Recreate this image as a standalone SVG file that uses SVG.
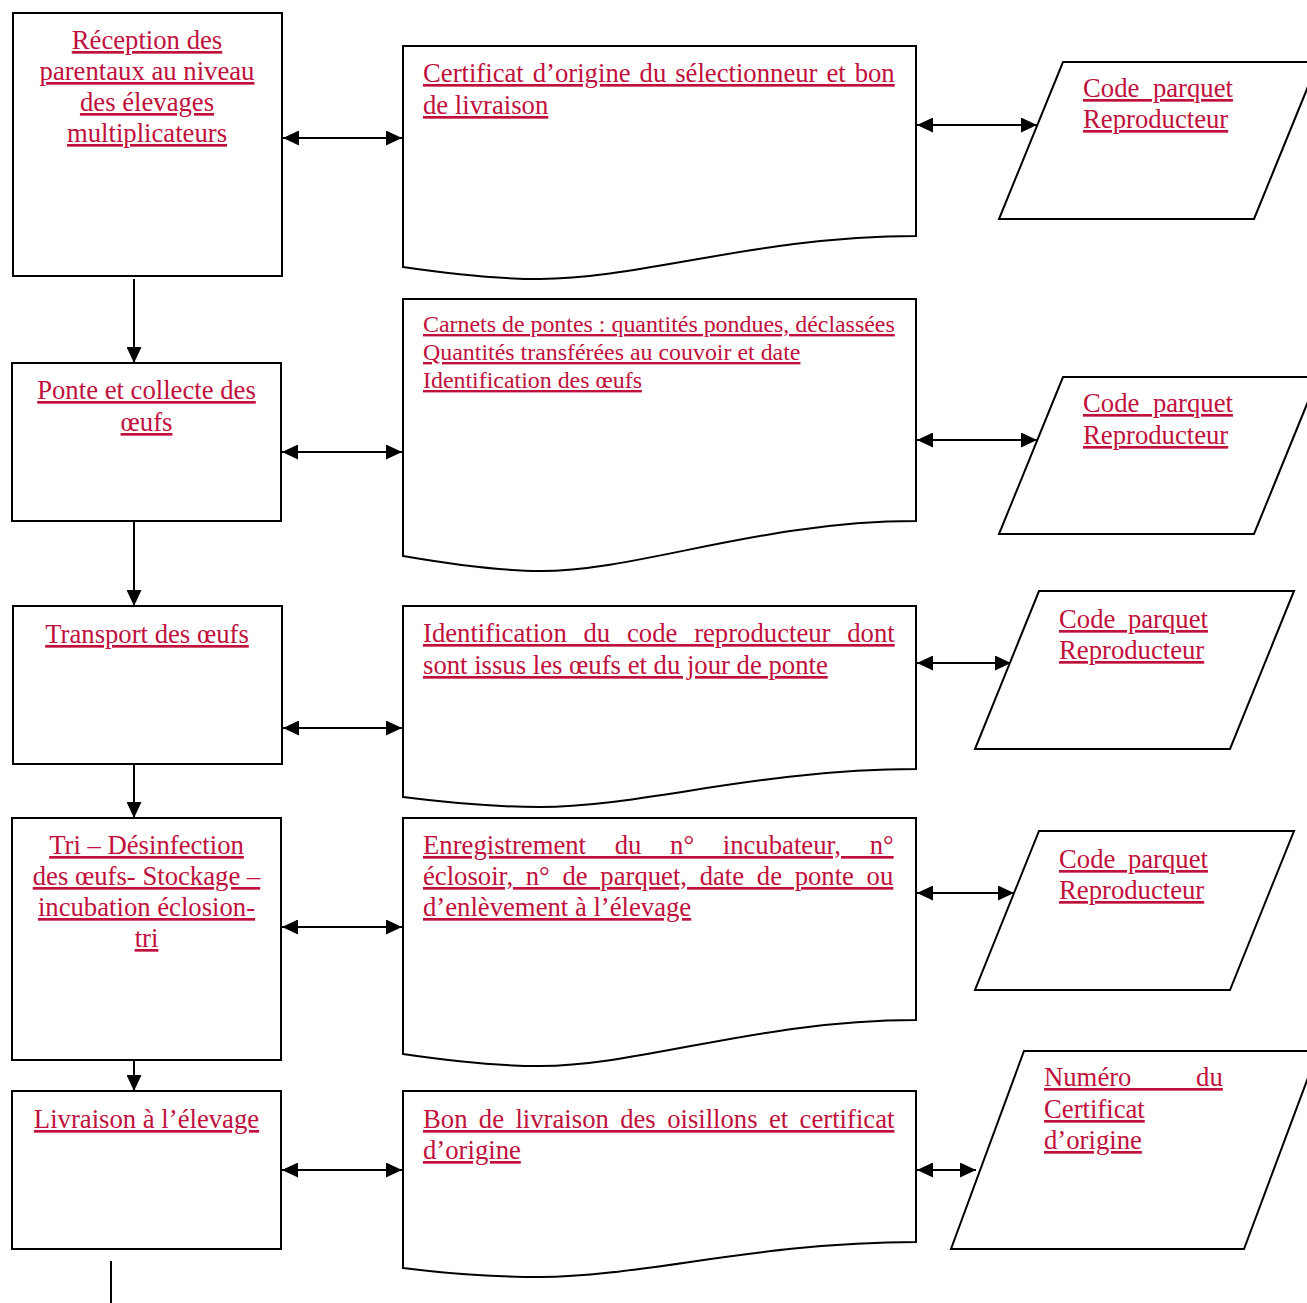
<svg xmlns="http://www.w3.org/2000/svg" width="1307" height="1303" viewBox="0 0 1307 1303">
<style>
.s{fill:#fff;stroke:#000;stroke-width:2}
.c{fill:none;stroke:#000;stroke-width:2}
text{font-family:"Liberation Serif","Times New Roman",serif;fill:#C0103C;text-decoration:underline}
.L{font-size:26.7px}
.S{font-size:23.9px}
.m{text-anchor:middle}
</style>
<defs>
<marker id="ah" markerUnits="userSpaceOnUse" markerWidth="16" markerHeight="15" refX="16" refY="7.5" orient="auto-start-reverse">
<path d="M0,0 L16,7.5 L0,15 Z" fill="#000"/>
</marker>
</defs>
<rect width="1307" height="1303" fill="#fff"/>

<g id="connectors">
<line class="c" x1="134" y1="279" x2="134" y2="363" marker-end="url(#ah)"/>
<line class="c" x1="134" y1="521" x2="134" y2="606" marker-end="url(#ah)"/>
<line class="c" x1="134" y1="764" x2="134" y2="818" marker-end="url(#ah)"/>
<line class="c" x1="134" y1="1060" x2="134" y2="1091" marker-end="url(#ah)"/>
<line class="c" x1="111" y1="1261" x2="111" y2="1303"/>
<line class="c" x1="283" y1="138" x2="402" y2="138" marker-start="url(#ah)" marker-end="url(#ah)"/>
<line class="c" x1="282" y1="452" x2="402" y2="452" marker-start="url(#ah)" marker-end="url(#ah)"/>
<line class="c" x1="283" y1="728" x2="402" y2="728" marker-start="url(#ah)" marker-end="url(#ah)"/>
<line class="c" x1="282" y1="927" x2="402" y2="927" marker-start="url(#ah)" marker-end="url(#ah)"/>
<line class="c" x1="282" y1="1170" x2="402" y2="1170" marker-start="url(#ah)" marker-end="url(#ah)"/>
<line class="c" x1="917" y1="125" x2="1037" y2="125" marker-start="url(#ah)" marker-end="url(#ah)"/>
<line class="c" x1="917" y1="440" x2="1037" y2="440" marker-start="url(#ah)" marker-end="url(#ah)"/>
<line class="c" x1="917" y1="663" x2="1011" y2="663" marker-start="url(#ah)" marker-end="url(#ah)"/>
<line class="c" x1="917" y1="893" x2="1014" y2="893" marker-start="url(#ah)" marker-end="url(#ah)"/>
<line class="c" x1="917" y1="1170" x2="976" y2="1170" marker-start="url(#ah)" marker-end="url(#ah)"/>
</g>

<g id="step1">
<rect class="s" x="13" y="13" width="269" height="263"/>
<text class="L m" x="147" y="49">Réception des</text>
<text class="L m" x="147" y="80">parentaux au niveau</text>
<text class="L m" x="147" y="111">des élevages</text>
<text class="L m" x="147" y="142">multiplicateurs</text>
</g>
<g id="step2">
<rect class="s" x="12" y="363" width="269" height="158"/>
<text class="L m" x="146.5" y="399">Ponte et collecte des</text>
<text class="L m" x="146.5" y="431">œufs</text>
</g>
<g id="step3">
<rect class="s" x="13" y="606" width="269" height="158"/>
<text class="L m" x="147" y="643">Transport des œufs</text>
</g>
<g id="step4">
<rect class="s" x="12" y="818" width="269" height="242"/>
<text class="L m" x="146.5" y="854">Tri – Désinfection</text>
<text class="L m" x="146.5" y="885">des œufs- Stockage –</text>
<text class="L m" x="146.5" y="916">incubation éclosion-</text>
<text class="L m" x="146.5" y="947">tri</text>
</g>
<g id="step5">
<rect class="s" x="12" y="1091" width="269" height="158"/>
<text class="L m" x="146.5" y="1128">Livraison à l’élevage</text>
</g>

<g id="doc1">
<path class="s" d="M403,46 H916 V236 C760,236 640,279 540,279 C500,279 450,274 403,267 Z"/>
<text class="L" x="423" y="82" word-spacing="2.3">Certificat d’origine du sélectionneur et bon</text>
<text class="L" x="423" y="114">de livraison</text>
</g>
<g id="doc2">
<path class="s" d="M403,299 H916 V521 C760,521 640,571 540,571 C500,571 450,564 403,556 Z"/>
<text class="S" x="423" y="332">Carnets de pontes : quantités pondues, déclassées</text>
<text class="S" x="423" y="360">Quantités transférées au couvoir et date</text>
<text class="S" x="423" y="388">Identification des œufs</text>
</g>
<g id="doc3">
<path class="s" d="M403,606 H916 V769 C760,769 640,807 540,807 C500,807 450,803 403,797 Z"/>
<text class="L" x="423" y="642" word-spacing="10.1">Identification du code reproducteur dont</text>
<text class="L" x="423" y="674">sont issus les œufs et du jour de ponte</text>
</g>
<g id="doc4">
<path class="s" d="M403,818 H916 V1020 C760,1020 640,1066 540,1066 C500,1066 450,1061 403,1054 Z"/>
<text class="L" x="423" y="854" word-spacing="22">Enregistrement du n° incubateur, n°</text>
<text class="L" x="423" y="885" word-spacing="6">éclosoir, n° de parquet, date de ponte ou</text>
<text class="L" x="423" y="916">d’enlèvement à l’élevage</text>
</g>
<g id="doc5">
<path class="s" d="M403,1091 H916 V1242 C760,1242 640,1277 540,1277 C500,1277 450,1274 403,1268 Z"/>
<text class="L" x="423" y="1128" word-spacing="4.7">Bon de livraison des oisillons et certificat</text>
<text class="L" x="423" y="1159">d’origine</text>
</g>

<g id="data1">
<polygon class="s" points="1063,62 1318,62 1254,219 999,219"/>
<text class="L" x="1083" y="97" word-spacing="6.9">Code parquet</text>
<text class="L" x="1083" y="128">Reproducteur</text>
</g>
<g id="data2">
<polygon class="s" points="1063,377 1318,377 1254,534 999,534"/>
<text class="L" x="1083" y="412" word-spacing="6.9">Code parquet</text>
<text class="L" x="1083" y="444">Reproducteur</text>
</g>
<g id="data3">
<polygon class="s" points="1039,591 1294,591 1230,749 975,749"/>
<text class="L" x="1059" y="628" word-spacing="5.9">Code parquet</text>
<text class="L" x="1059" y="659">Reproducteur</text>
</g>
<g id="data4">
<polygon class="s" points="1039,831 1294,831 1230,990 975,990"/>
<text class="L" x="1059" y="868" word-spacing="5.9">Code parquet</text>
<text class="L" x="1059" y="899">Reproducteur</text>
</g>
<g id="data5">
<polygon class="s" points="1024,1051 1318,1051 1244,1249 951,1249"/>
<text class="L" x="1044" y="1086" word-spacing="58">Numéro du</text>
<text class="L" x="1044" y="1118">Certificat</text>
<text class="L" x="1044" y="1149">d’origine</text>
</g>
</svg>
